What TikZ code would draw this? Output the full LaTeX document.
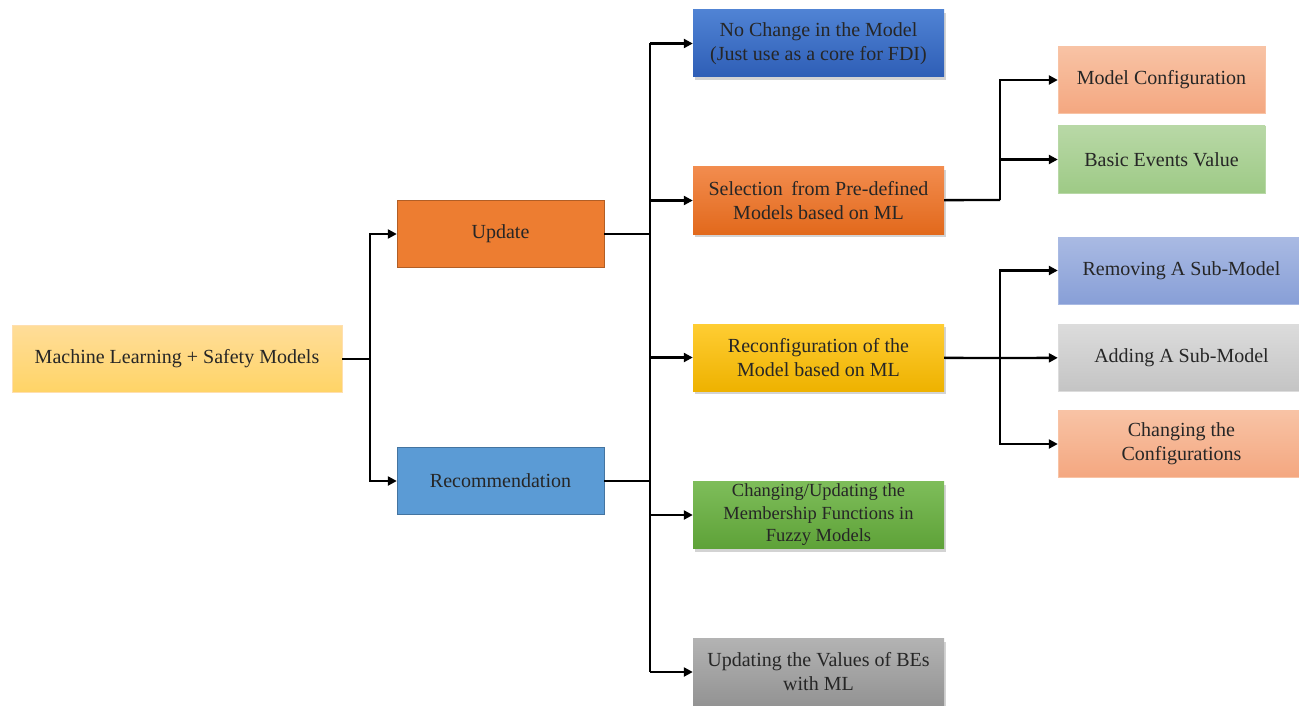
\documentclass[tikz,border=0pt]{standalone}
\usepackage{fontspec}
\setmainfont{Liberation Serif}
\usetikzlibrary{arrows.meta, positioning, calc, shadows}

\definecolor{rootTop}{HTML}{FFDD99}
\definecolor{rootBot}{HTML}{FFD466}
\definecolor{updFill}{HTML}{ED7D31}
\definecolor{recFill}{HTML}{5B9BD5}
\definecolor{blueTop}{HTML}{5083D4}
\definecolor{blueBot}{HTML}{2E5EB6}
\definecolor{orTop}{HTML}{F28C4E}
\definecolor{orBot}{HTML}{E2691C}
\definecolor{yeTop}{HTML}{FFCD33}
\definecolor{yeBot}{HTML}{EEB200}
\definecolor{grTop}{HTML}{7EBD5A}
\definecolor{grBot}{HTML}{5EA238}
\definecolor{gyTop}{HTML}{B3B3B3}
\definecolor{gyBot}{HTML}{939393}
\definecolor{saTop}{HTML}{F8C3A5}
\definecolor{saBot}{HTML}{F4A780}
\definecolor{lgTop}{HTML}{B8D8A6}
\definecolor{lgBot}{HTML}{9ECA86}
\definecolor{lbTop}{HTML}{A9BAE3}
\definecolor{lbBot}{HTML}{889FD7}
\definecolor{lyTop}{HTML}{DCDCDC}
\definecolor{lyBot}{HTML}{C4C4C4}

\begin{document}
\begin{tikzpicture}[x=1pt, y=-1pt,
  box/.style={rectangle, minimum height=67pt, inner sep=2pt, align=center,
    text=black!85, font=\fontsize{20}{24}\selectfont},
  shbox/.style={box, drop shadow={opacity=0.35, shadow xshift=1.5pt, shadow yshift=-3pt}},
  conn/.style={line width=2.3pt, black},
  arr/.style={conn, -{Triangle[length=9pt,width=9pt]}}
]
\useasboundingbox (0,0) rectangle (1299,706);

% root and first level
\node[box, minimum width=330pt, top color=rootTop, bottom color=rootBot, draw=rootTop!80!orange!60] (root) at (177,359) {Machine Learning + Safety Models};
\node[box, minimum width=207pt, fill=updFill, draw=updFill!75!black] (upd) at (500.5,234) {Update};
\node[box, minimum width=207pt, fill=recFill, draw=recFill!75!black] (rec) at (500.5,481) {Recommendation};

% second level
\node[shbox, minimum width=251pt, top color=blueTop, bottom color=blueBot] (nochg) at (818.5,43.5) {No Change in the Model\\(Just use as a core for FDI)};
\node[shbox, minimum width=251pt, top color=orTop, bottom color=orBot] (sel) at (818.5,200.5) {Selection\, from Pre-defined\\Models based on ML};
\node[shbox, minimum width=251pt, top color=yeTop, bottom color=yeBot] (reconf) at (818.5,357.5) {Reconfiguration of the\\Model based on ML};
\node[shbox, minimum width=251pt, top color=grTop, bottom color=grBot, font=\fontsize{18.5}{22.5}\selectfont] (memb) at (818.5,515) {Changing/Updating the\\Membership Functions in\\Fuzzy Models};
\node[shbox, minimum width=251pt, top color=gyTop, bottom color=gyBot] (beval) at (818.5,672) {Updating the Values of BEs\\with ML};

% third level
\node[box, minimum width=207pt, top color=saTop, bottom color=saBot, draw=saTop] (mcfg) at (1161.5,80) {Model Configuration};
\node[box, minimum width=207pt, top color=lgTop, bottom color=lgBot, draw=lgTop] (bev) at (1161.5,159.5) {Basic Events Value};
\node[box, minimum width=247pt, top color=lbTop, bottom color=lbBot, draw=lbTop] (rem) at (1181.5,270.5) {Removing A Sub-Model};
\node[box, minimum width=247pt, top color=lyTop, bottom color=lyBot, draw=lyTop] (add) at (1181.5,357.5) {Adding A Sub-Model};
\node[box, minimum width=247pt, top color=saTop, bottom color=saBot, draw=saTop] (chcfg) at (1181.5,444) {Changing the\\Configurations};

% junction points
\coordinate (j1) at (370,359);
\coordinate (j2) at (650,359);
\coordinate (j3) at (1000,200);
\coordinate (j4) at (1000,358);

% connectors
\draw[conn] (root) -- (j1);
\draw[arr] (j1) |- (upd);
\draw[arr] (j1) |- (rec);

\draw[conn] (upd) -- (upd -| j2);
\draw[conn] (rec) -- (rec -| j2);
\draw[conn] (j2 |- nochg) -- (j2 |- beval);
\foreach \n in {nochg, sel, reconf, memb, beval}
  \draw[arr] (j2 |- \n) -- (\n);

\draw[conn] (sel) -- (j3);
\draw[arr] (j3) |- (mcfg);
\draw[arr] (j3) |- (bev);

\draw[conn] (reconf) -- (j4);
\draw[arr] (j4) |- (rem);
\draw[arr] (j4) -- (add);
\draw[arr] (j4) |- (chcfg);
\end{tikzpicture}
\end{document}
